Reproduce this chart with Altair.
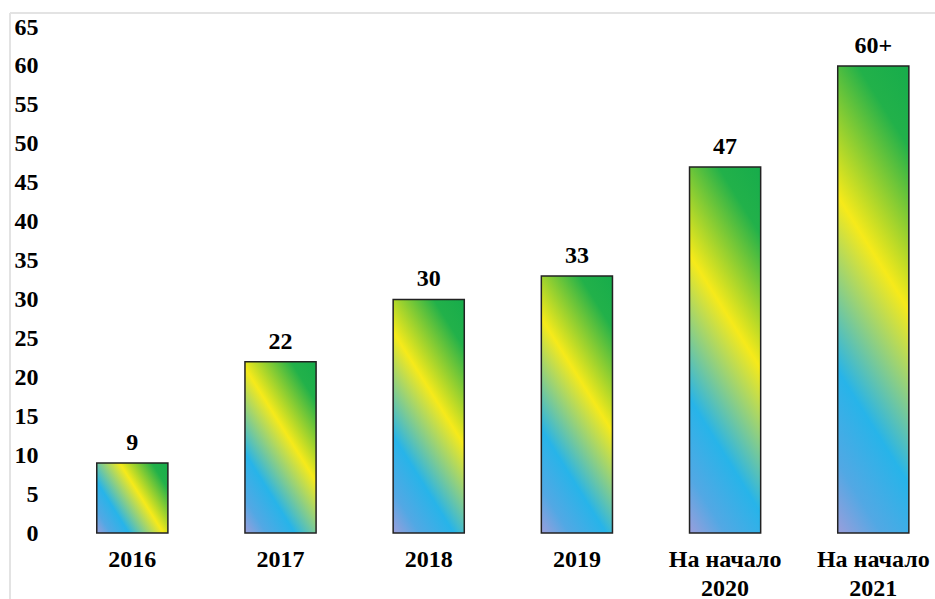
import altair as alt
import pandas as pd

categories = ["2016", "2017", "2018", "2019", "На начало\n2020", "На начало\n2021"]
values = [9, 22, 30, 33, 47, 60]
value_labels = ["9", "22", "30", "33", "47", "60+"]
y_ticks = list(range(0, 66, 5))

df = pd.DataFrame({"cat": categories, "val": values, "lab": value_labels})

FONT = "Liberation Serif"
W, H = 885, 506
Y_MAX = 65
PAD_INNER = 0.52
PAD_OUTER = 0.246
STEP = W / (len(categories) - PAD_INNER + 2 * PAD_OUTER)
BAR_W = STEP * (1 - PAD_INNER)
SLOPE = 1.6  # pixel slope of the gradient iso-lines

stops = [
    {"offset": 0.0, "color": "#9a9edb"},
    {"offset": 0.12, "color": "#52a8e4"},
    {"offset": 0.28, "color": "#27b4e9"},
    {"offset": 0.58, "color": "#f6ea1a"},
    {"offset": 0.86, "color": "#22b14a"},
    {"offset": 1.0, "color": "#17ac4b"},
]


def gradient_for(v):
    h = v / Y_MAX * H
    a = SLOPE * BAR_W / h
    k = (a + 1) / (a * a + 1)
    return alt.Gradient(
        gradient="linear", stops=stops, x1=0, y1=1, x2=k * a, y2=1 - k
    )


x_enc = alt.X(
    "cat:N",
    sort=categories,
    title=None,
    scale=alt.Scale(domain=categories, paddingInner=PAD_INNER,
                    paddingOuter=PAD_OUTER, align=0.71),
    axis=alt.Axis(
        labelAngle=0, labelFont=FONT, labelFontSize=24, labelFontWeight="bold",
        labelColor="black", labelPadding=14, labelLineHeight=29,
        labelExpr="split(datum.label, '\\n')", ticks=False, tickSize=0,
        domain=False, grid=False,
    ),
)
y_enc = alt.Y(
    "val:Q",
    title=None,
    scale=alt.Scale(domain=[0, Y_MAX], nice=False),
    axis=alt.Axis(
        values=y_ticks, labelFont=FONT, labelFontSize=24, labelFontWeight="bold",
        labelColor="black", labelPadding=7, ticks=False, tickSize=0,
        domain=False, grid=False,
    ),
)

layers = []
for cat, v in zip(categories, values):
    layers.append(
        alt.Chart(df)
        .transform_filter(alt.datum.cat == cat)
        .mark_bar(fill=gradient_for(v), stroke="#222222", strokeWidth=1.5)
        .encode(x=x_enc, y=y_enc)
    )

text = alt.Chart(df).mark_text(
    font=FONT, fontSize=24, fontWeight="bold", color="black",
    baseline="alphabetic", dy=-13,
).encode(x=x_enc, y=y_enc, text="lab:N")

frame_top = alt.Chart(df).mark_rule(color="#e3e3e3", strokeWidth=2, clip=False).encode(
    x=alt.value(-35), x2=alt.value(895), y=alt.value(-14)
)
frame_left = alt.Chart(df).mark_rule(color="#e3e3e3", strokeWidth=2, clip=False).encode(
    x=alt.value(-35), y=alt.value(-14), y2=alt.value(580)
)

chart = (
    alt.layer(frame_top, frame_left, *layers, text)
    .properties(
        width=W, height=H,
        autosize=alt.AutoSizeParams(type="none"),
        padding={"left": 45, "top": 27, "right": 5, "bottom": 66},
        background="white",
    )
    .configure_view(stroke=None)
)

chart.save("out.html", embed_options={"renderer": "svg", "actions": False})
